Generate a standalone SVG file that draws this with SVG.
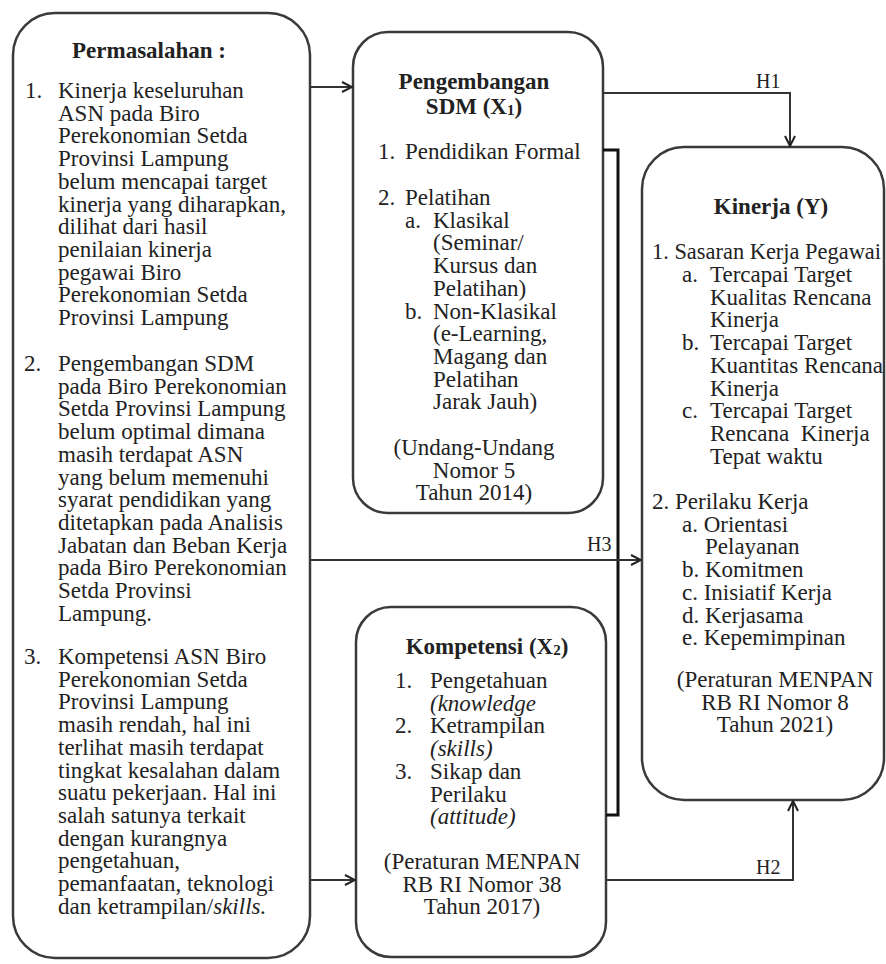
<svg xmlns="http://www.w3.org/2000/svg" width="886" height="964" viewBox="0 0 886 964">
<defs>
<marker id="arr" viewBox="0 0 12 12" refX="11" refY="6" markerWidth="12" markerHeight="12" markerUnits="userSpaceOnUse" orient="auto">
<path d="M1,1 L11,6 L1,11" fill="none" stroke="#222" stroke-width="2"/>
</marker>
<style>
.box{fill:#fff;stroke:#3a3a3a;stroke-width:2.5}
.t{font-family:"Liberation Serif","Times New Roman",serif;font-size:23px;fill:#222}
.b{font-weight:bold}
.c{text-anchor:middle}
.i{font-style:italic}
.lbl{font-family:"Liberation Serif","Times New Roman",serif;font-size:20px;fill:#222}
.ln{fill:none;stroke:#333;stroke-width:2}
</style>
</defs>
<rect width="886" height="964" fill="#fff"/>

<g id="permasalahan">
<rect class="box" x="13" y="13" width="297" height="945" rx="42" ry="42"/>
<text class="t b" x="72" y="58">Permasalahan :</text>
<text class="t" x="25" y="98">1.</text>
<text class="t" x="58" y="98">Kinerja keseluruhan</text>
<text class="t" x="58" y="120.7">ASN pada Biro</text>
<text class="t" x="58" y="143.4">Perekonomian Setda</text>
<text class="t" x="58" y="166.1">Provinsi Lampung</text>
<text class="t" x="58" y="188.8">belum mencapai target</text>
<text class="t" x="58" y="211.5">kinerja yang diharapkan,</text>
<text class="t" x="58" y="234.2">dilihat dari hasil</text>
<text class="t" x="58" y="256.9">penilaian kinerja</text>
<text class="t" x="58" y="279.6">pegawai Biro</text>
<text class="t" x="58" y="302.3">Perekonomian Setda</text>
<text class="t" x="58" y="325">Provinsi Lampung</text>
<text class="t" x="24" y="371">2.</text>
<text class="t" x="58" y="371">Pengembangan SDM</text>
<text class="t" x="58" y="393.7">pada Biro Perekonomian</text>
<text class="t" x="58" y="416.4">Setda Provinsi Lampung</text>
<text class="t" x="58" y="439.1">belum optimal dimana</text>
<text class="t" x="58" y="461.8">masih terdapat ASN</text>
<text class="t" x="58" y="484.5">yang belum memenuhi</text>
<text class="t" x="58" y="507.2">syarat pendidikan yang</text>
<text class="t" x="58" y="529.9">ditetapkan pada Analisis</text>
<text class="t" x="58" y="552.6">Jabatan dan Beban Kerja</text>
<text class="t" x="58" y="575.3">pada Biro Perekonomian</text>
<text class="t" x="58" y="598">Setda Provinsi</text>
<text class="t" x="58" y="620.7">Lampung.</text>
<text class="t" x="24" y="664">3.</text>
<text class="t" x="58" y="664">Kompetensi ASN Biro</text>
<text class="t" x="58" y="686.7">Perekonomian Setda</text>
<text class="t" x="58" y="709.4">Provinsi Lampung</text>
<text class="t" x="58" y="732.1">masih rendah, hal ini</text>
<text class="t" x="58" y="754.8">terlihat masih terdapat</text>
<text class="t" x="58" y="777.5">tingkat kesalahan dalam</text>
<text class="t" x="58" y="800.2">suatu pekerjaan. Hal ini</text>
<text class="t" x="58" y="822.9">salah satunya terkait</text>
<text class="t" x="58" y="845.6">dengan kurangnya</text>
<text class="t" x="58" y="868.3">pengetahuan,</text>
<text class="t" x="58" y="891">pemanfaatan, teknologi</text>
<text class="t" x="58" y="913.7">dan ketrampilan/<tspan class="i">skills.</tspan></text>
</g>

<g id="pengembangan">
<rect class="box" x="353" y="32" width="250" height="481" rx="35" ry="35"/>
<text class="t b c" x="474" y="89">Pengembangan</text>
<text class="t b c" x="474" y="114">SDM (X<tspan font-size="15" dy="1">1</tspan><tspan dy="-1">)</tspan></text>
<text class="t" x="378" y="159">1.</text>
<text class="t" x="405" y="159">Pendidikan Formal</text>
<text class="t" x="378" y="205">2.</text>
<text class="t" x="405" y="205">Pelatihan</text>
<text class="t" x="405" y="227.7">a.</text>
<text class="t" x="433" y="227.7">Klasikal</text>
<text class="t" x="433" y="250.4">(Seminar/</text>
<text class="t" x="433" y="273.1">Kursus dan</text>
<text class="t" x="433" y="295.8">Pelatihan)</text>
<text class="t" x="405" y="318.5">b.</text>
<text class="t" x="433" y="318.5">Non-Klasikal</text>
<text class="t" x="433" y="341.2">(e-Learning,</text>
<text class="t" x="433" y="363.9">Magang dan</text>
<text class="t" x="433" y="386.6">Pelatihan</text>
<text class="t" x="433" y="409.3">Jarak Jauh)</text>
<text class="t c" x="474" y="455">(Undang-Undang</text>
<text class="t c" x="474" y="477.7">Nomor 5</text>
<text class="t c" x="474" y="500.4">Tahun 2014)</text>
</g>

<g id="kompetensi">
<rect class="box" x="356" y="607" width="250" height="350" rx="35" ry="35"/>
<text class="t b c" x="487" y="654">Kompetensi (X<tspan font-size="15" dy="1">2</tspan><tspan dy="-1">)</tspan></text>
<text class="t" x="395" y="688">1.</text>
<text class="t" x="430" y="688">Pengetahuan</text>
<text class="t i" x="430" y="710.7">(knowledge</text>
<text class="t" x="395" y="733.4">2.</text>
<text class="t" x="430" y="733.4">Ketrampilan</text>
<text class="t i" x="430" y="756.1">(skills)</text>
<text class="t" x="395" y="778.8">3.</text>
<text class="t" x="430" y="778.8">Sikap dan</text>
<text class="t" x="430" y="801.5">Perilaku</text>
<text class="t i" x="430" y="824.2">(attitude)</text>
<text class="t c" x="482" y="869">(Peraturan MENPAN</text>
<text class="t c" x="482" y="891.7">RB RI Nomor 38</text>
<text class="t c" x="482" y="914.4">Tahun 2017)</text>
</g>

<g id="kinerja">
<rect class="box" x="642" y="147" width="242" height="653" rx="42" ry="42"/>
<text class="t b c" x="771" y="214">Kinerja (Y)</text>
<text class="t" x="652" y="259" textLength="229" lengthAdjust="spacingAndGlyphs">1. Sasaran Kerja Pegawai</text>
<text class="t" x="682" y="282">a.</text>
<text class="t" x="710" y="282">Tercapai Target</text>
<text class="t" x="710" y="304.7">Kualitas Rencana</text>
<text class="t" x="710" y="327.4">Kinerja</text>
<text class="t" x="682" y="350.1">b.</text>
<text class="t" x="710" y="350.1">Tercapai Target</text>
<text class="t" x="710" y="372.8">Kuantitas Rencana</text>
<text class="t" x="710" y="395.5">Kinerja</text>
<text class="t" x="682" y="418.2">c.</text>
<text class="t" x="710" y="418.2">Tercapai Target</text>
<text class="t" x="710" y="440.9" xml:space="preserve">Rencana  Kinerja</text>
<text class="t" x="710" y="463.6">Tepat waktu</text>
<text class="t" x="652" y="509">2. Perilaku Kerja</text>
<text class="t" x="682" y="531.7">a. Orientasi</text>
<text class="t" x="705" y="554.4">Pelayanan</text>
<text class="t" x="682" y="577.1">b. Komitmen</text>
<text class="t" x="682" y="599.8">c. Inisiatif Kerja</text>
<text class="t" x="682" y="622.5">d. Kerjasama</text>
<text class="t" x="682" y="645.2">e. Kepemimpinan</text>
<text class="t c" x="775" y="687">(Peraturan MENPAN</text>
<text class="t c" x="775" y="709.7">RB RI Nomor 8</text>
<text class="t c" x="775" y="732.4">Tahun 2021)</text>
</g>

<g id="connectors">
<path class="ln" d="M310,87 H352" marker-end="url(#arr)"/>
<path class="ln" d="M603,93 H790 V146" stroke-width="2.5" marker-end="url(#arr)"/>
<text class="lbl" x="756" y="88">H1</text>
<path d="M603,150 H618 V815 H606" fill="none" stroke="#111" stroke-width="3"/>
<path class="ln" d="M310,560 H641" stroke-width="1.6" marker-end="url(#arr)"/>
<text class="lbl" x="587" y="551">H3</text>
<path class="ln" d="M310,880 H355" marker-end="url(#arr)"/>
<path class="ln" d="M606,880 H793 V801" stroke-width="2.5" marker-end="url(#arr)"/>
<text class="lbl" x="756" y="874">H2</text>
</g>
</svg>
